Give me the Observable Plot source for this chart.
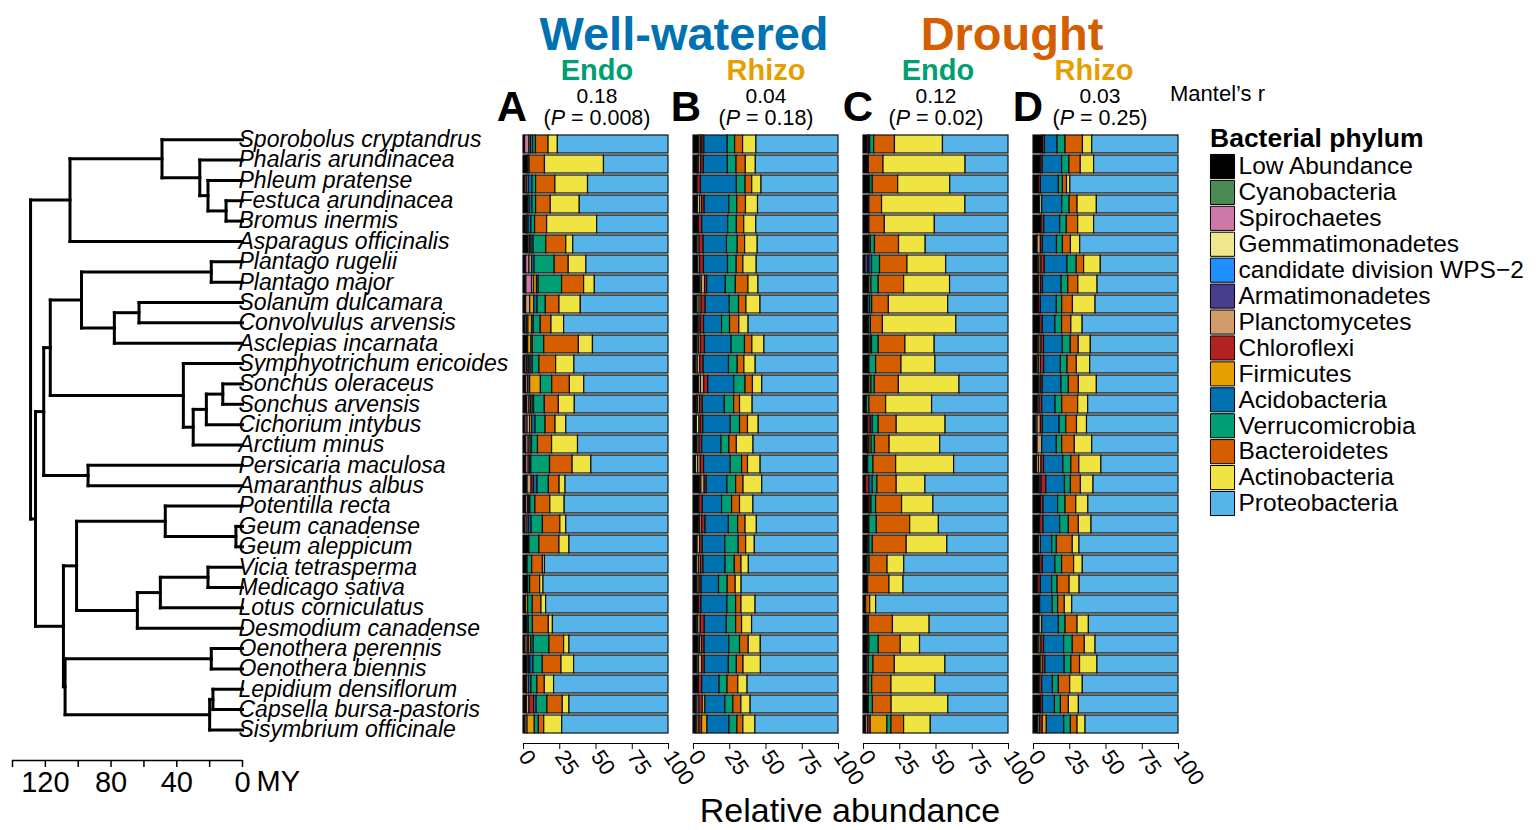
<!DOCTYPE html>
<html><head><meta charset="utf-8">
<script src="https://cdn.jsdelivr.net/npm/d3@7"></script>
<script src="https://cdn.jsdelivr.net/npm/@observablehq/plot@0.6"></script>
<style>
body{margin:0;background:#fff;font-family:"Liberation Sans",Arial,sans-serif}
#wrap{position:relative;width:1536px;height:830px;overflow:hidden;background:#fff}
#wrap > svg{position:absolute;left:0;top:0}
</style></head>
<body><div id="wrap"></div>
<script>
const species = ["Sporobolus cryptandrus","Phalaris arundinacea","Phleum pratense","Festuca arundinacea","Bromus inermis","Asparagus officinalis","Plantago rugelii","Plantago major","Solanum dulcamara","Convolvulus arvensis","Asclepias incarnata","Symphyotrichum ericoides","Sonchus oleraceus","Sonchus arvensis","Cichorium intybus","Arctium minus","Persicaria maculosa","Amaranthus albus","Potentilla recta","Geum canadense","Geum aleppicum","Vicia tetrasperma","Medicago sativa","Lotus corniculatus","Desmodium canadense","Oenothera perennis","Oenothera biennis","Lepidium densiflorum","Capsella bursa-pastoris","Sisymbrium officinale"];
const phyla = ["Low Abundance","Cyanobacteria","Spirochaetes","Gemmatimonadetes","candidate division WPS\u22122","Armatimonadetes","Planctomycetes","Chloroflexi","Firmicutes","Acidobacteria","Verrucomicrobia","Bacteroidetes","Actinobacteria","Proteobacteria"];
const phylumColors = ["#000000","#4b8a50","#cc79a7","#f0e68c","#1e90ff","#483d8b","#d19c6c","#b22222","#e69f00","#0072b2","#009e73","#d55e00","#f0e442","#56b4e9"];
const panels = ["A","B","C","D"];
const panelTreatment = ["Well-watered","Well-watered","Drought","Drought"];
const panelCompartment = ["Endo","Rhizo","Endo","Rhizo"];
const mantelR = ["0.18","0.04","0.12","0.03"];
const mantelP = ["0.008","0.18","0.02","0.25"];
const axisTicks = [0,25,50,75,100];
const myTicks = [0,20,40,60,80,100,120,140];

// columns: Low, Cyano, Spiro, Gemma, WPS-2, Armat, Planct, Chloro, Firm, Acido, Verruco, Bacteroid, Actino (Proteobacteria fills the rest of 100%)
const wellEndo = [
[1.1,0,3,0,0,0,1,0,0,1.5,2,8.7,6.4],
[3.2,0,0,0,0,0,0,0,0,0,1,10.6,40.7],
[1.4,0,1.1,0,0,0,1.2,0,0,2.5,2.5,13.3,22.5],
[3.2,0,0,0,0,0,1,0,0,2,2.5,10.1,20],
[2,0,0,0,0,0,0.5,1,0,2,2.5,8.3,34.5],
[3.5,0,0,0,0,0,1,0,1,1.5,8.7,13.8,4.8],
[1.8,0,2.3,0,0,0,1.8,0,0,1.8,13.8,9.7,12.2],
[2,0,3.9,0,0,0,1.4,0,2,1.2,16.1,15.2,7.4],
[1.8,0,0,0,0,0,2.8,0,2.8,2.3,5.7,9.4,14.7],
[1.4,0,1,0,0,0,1,0,2.5,1.2,4.8,7.4,8.7],
[3.2,0,0,0,0,0,0,0,2.3,1,7.8,23.9,9.7],
[1.4,0,1.1,0,0,0,1,0.5,0.9,1.5,4.6,11.5,12.6],
[1.8,0,1.4,0,0,1.4,0,0,7.4,0,7.8,12.2,9.9],
[2.5,0,1.6,0,0,0,1,0,1.2,1,7.4,9.7,11],
[1.4,0,1.4,0,0,0,1.8,0,1.4,2.3,6.9,6.9,7.4],
[1.8,0,1.8,0,0,0,1.3,0,0,1,4.1,9.7,17.9],
[1.8,0,1.8,0,0,0,1,0,0,0.8,12.9,15.6,12.9],
[2.8,0,0,0,0,0,2.8,1.6,0,2.5,7.8,7.4,4.1],
[1.8,0,1.4,0,0,0,0.8,0,0,0.8,3.4,10.3,9.9],
[1.4,0,1.4,0,0,0,1,0,0,1.8,7.8,12,4.1],
[4.1,0,0,0,0,0,0,0,0,0,6.9,13.8,6.9],
[2.8,0,0,0,0,0,0,0,0,0,3.2,7.4,1.4],
[3.2,0,0,0,0,0,0,0,0,0,1.4,6.9,2.3],
[1.8,0,0,0,0,0,0,0,1.4,0,3.2,6,3.2],
[2.8,0,0,0,0,0,0,0,0,0.9,2.8,11,2.8],
[1.4,0,0,0,0,0,1.5,1,1.5,1.7,10.8,10.1,3.7],
[2.8,0,0.9,0,0,0,1,0,0,2.2,6.4,12.9,8.7],
[2.3,0,0,0,0,0,1.4,0,0,1.8,4.1,5.1,6.4],
[2.3,0,0,0,0,0,1.8,3.2,0,1.8,7.4,10.6,4.6],
[1.4,0,0,0,0,0,1.4,0,5,0,2.8,3.7,12.4]];
const wellRhizo = [
[4.1,0,0,1,0,0,1,1.4,0,16.1,5.1,5.5,9.2],
[3,0,0,0.9,0,0,1.4,1.8,0,16.6,6,6.4,6.9],
[2.8,0,0,0,0,0,0,2.3,0,24.8,6,4.6,6.4],
[3,0,0,1.5,0,0,1.4,1.8,0,17,5.5,6,8.3],
[3.7,0,0,0,0,0,0,2.3,0,17.9,6,5.1,8.3],
[2.8,0,0,0,0,0,1.4,2.8,0,16.1,7.4,5.1,8.7],
[3.3,0,0,0,0,0,1.4,2.5,0,16.6,6,4.6,9.2],
[4.8,0,0,0.9,0,0,2.3,1.4,0,12.9,6.9,8.7,6.9],
[2.8,0,0,1.4,0,0,1.4,2.8,0,16.6,6.4,5.1,9.7],
[3.2,0,0,0.9,0,0,0.9,2.3,0,12.4,5.5,6.4,6.4],
[2.8,0,0,0.9,0,0,1.4,2.8,0,18.4,9.2,5.1,8.3],
[2,0,0,0.9,0,0,1.8,2.3,0,17.5,6,4.6,7.8],
[3.7,0,0,1.4,0,0,2.3,2.8,0,17.9,7.8,5.1,6.4],
[2.3,0,0,0.9,0,0,1.4,1.8,0,15.2,6.4,4.1,8.7],
[2.3,0,0,1.8,0,0,0.9,1.8,0,18.9,6.4,5.5,7.4],
[2.8,0,0,0,0,0,1.4,1.8,0,13.3,5.5,5.1,11.5],
[1.8,0,0,1.4,0,0,1.8,2.3,0,18.4,7.8,4.1,8.7],
[4.5,0,0,0.9,0,0,2.3,1.4,0,14.3,6,5.1,12.9],
[4.1,0,0,0,0,0,0,2.3,0,13.3,6.9,5.5,9.2],
[3.7,0,0,0.9,0,0,1.4,2.3,0,16.1,6.4,5.1,7.8],
[2.8,0,0,0,0,0,1.8,1.8,0,15.6,9.2,5.1,6],
[2.3,0,0,1.4,0,0,1.4,1.8,0,15.2,6.4,4.6,5.1],
[2.8,0,0,0,0,0,1.4,1.4,0,12,6,5.5,4.1],
[3.7,0,0,0,0,0,0,1.8,0,17.9,6,3.7,9.7],
[2.3,0,0,0.9,0,0,1.8,2.8,0,15.2,6.4,4.1,6.9],
[3.6,0,0,0.9,0,0,1.4,1.8,0,17,7.4,6,8.3],
[2.8,0,0,0.9,0,0,2.3,1.8,0,16.6,5.5,4.6,12],
[3.7,0,0,0,0,0,0,2.3,0,12,5.5,7.4,6.4],
[1.8,0,0,0.9,0,0,1.4,2.3,1.8,13.8,5.5,5.5,6.4],
[1.8,0,0,0.9,0,0,1.4,1.8,3.7,15.2,5.5,4.1,8.3]];
const droughtEndo = [
[2.8,0,0,0,0,0,0,0.9,0,0.9,2.8,14.3,33.1],
[3.7,0,0,0,0,0,0,0,0,0,0,10.1,56.6],
[4.6,0,0,0,0,0,0,0,0,0,1.8,17.5,35.9],
[4.1,0,0,0,0,0,0,0,0,0,0,8.7,57.5],
[4.1,0,0,0,0,0,0,0,0,0,0,10.6,34.5],
[4.2,0,0,0,0,0,0.9,0,0,0,2.8,16.6,18.4],
[1.4,0,0,0,0,1.8,0,0.9,0,1.8,5.5,18.9,26.7],
[4.1,0,0,0,0,0,1.4,0,0,0,5,17.5,31.7],
[3.2,0,0,0,0,0,0,0,0,1.4,1.4,11.5,40.9],
[3.7,0,0,0,0,0,0,0,0,0,1.4,8.3,50.6],
[4.1,0,0,0,0,0,0.9,0.9,0,0,4.6,18.4,20.2],
[4.1,0,0,0,0,0,0,0,0,0,4.6,17.5,23.4],
[4.1,0,0,0,0,0,0,0,1.4,0,2.3,16.6,41.8],
[2.3,0,0,0,0,0,0,0,0,0,1.8,11.5,31.7],
[3.2,0,0,0,0,0,0,1.8,0,1.4,4.1,12.4,33.7],
[3.3,0,0,0,0,0,0,0.9,1.4,0,2.3,10.1,34.9],
[3.2,0,0,0,0,0,0,0,0,0,3.7,15.6,40],
[1.8,0,0,0,0,0,0,2.3,0,2.3,3.2,13.3,19.8],
[4.1,0,0,0,0,0,0,1.4,0,0,3.2,17.9,21.6],
[4.1,0,0,0,0,0,0,0,0,0,5.1,23,19.8],
[3.2,0,0,0,0,0,0,0,0.9,0,2.3,23.4,28],
[2.8,0,0,0,0,0,0,0,0,0,1.4,12.4,11.5],
[3.2,0,0,0,0,0,0,0,0,0,0,14.7,9.7],
[1.8,0,0,0,0,0,0,0,0,0,0,2.8,4.1],
[2.8,0,0,0,0,0,0,0,0,0,0.9,16.6,25.3],
[3.2,0,0,0,0,0,0,0,0.9,0,6.4,15.2,13.3],
[2.3,0,0,0,0,1.4,0,0,0,0,3.2,14.7,34.9],
[2.3,0,0,0,0,0,0,1.4,0,0,2.3,13.3,30.3],
[3.7,0,0,0,0,0,0,0,0,0,2.8,12.9,39.1],
[1.8,0,0,0,0,0,1.4,1.8,11.5,0,2.8,8.7,18.4]];
const droughtRhizo = [
[6.5,0,0,0,0,0,0,1.4,0,8.7,5.5,12,6.4],
[5,0,0,0,0,0,0,1.4,0,13.3,5.1,7.8,9.2],
[3.7,0,0,0,0,0,0,1.4,0,12.4,2.8,2.8,2.3],
[4.6,0,0,1.4,0,0,0,0,0,13.8,5.1,5.5,13.3],
[5.6,0,0,0,0,0,0,1.8,0,11,4.6,7.8,11],
[2.8,0,0,0,0,0,2.3,1.4,0,9.7,4.1,5.5,6.4],
[3.2,0,0,0.9,0,0,1.4,2.3,0,15.6,6.4,5.1,11.5],
[3.7,0,0,0,0,0,1.4,1.4,0,12.9,4.6,6.9,13.3],
[3.7,0,0,0,0,0,0,1.4,0,11,3.7,7.4,15.6],
[4.6,0,0,0,0,0,0,1.8,0,8.7,4.6,6.4,7.8],
[3.2,0,0,0.9,0,0,1.4,1.8,0,12.9,5.5,5.5,8.3],
[2.8,0,0,0.9,0,0,1.4,2.3,0,11.5,4.6,6.4,9.2],
[4.1,0,0,0.9,0,0,0,1.4,0,12.9,5.1,6.9,12.4],
[3.3,0,0,0.9,0,0,0,1.8,0,9.2,4.6,11,6.9],
[1.9,0,0,0.9,0,0,2.3,1.4,0,11.5,4.6,7.4,6.9],
[2.8,0,0,0,0,0,3.2,0,0,10.1,3.7,8.7,12],
[2.3,0,0,1.4,0,0,1.8,1.8,0,13.3,5.5,5.5,15.2],
[4.2,0,0,0,0,1.4,0,3.2,0,12.9,4.1,6.9,8.7],
[5.1,0,0,0,0,0,0,1.8,0,10.1,5.1,7.4,8.3],
[4.6,0,0,0,0,0,0,2.3,0,11.5,6,6.9,8.7],
[3.7,0,0,0,0,0,1.4,0,0,7.8,3.2,11,4.6],
[4.6,0,0,0,0,0,0,1.8,0,8.7,4.6,8.3,6],
[3.3,0,0,0,0,0,0,1.8,0,7.8,3.7,8.3,6.9],
[4.6,0,0,0,0,0,0,0,0,8.7,3.7,4.6,5.1],
[4.2,0,0,0,0,0,1.8,0,0,11.5,4.6,8.3,7.8],
[3.2,0,0,0.9,0,0,1.4,1.8,0,13.8,6,8.3,7.4],
[5,0,0,1.4,0,0,0,1.8,0,13.3,4.6,6,12],
[4.2,0,0,0,0,0,0,1.8,0,7.4,4.1,7.8,8.7],
[5.1,0,0,0,0,0,0,1.4,0,8.3,4.1,5.5,6.9],
[3.2,1.4,0,0,0,0,0,1.8,2.8,12,4.6,4.6,5.5]];

// phylogeny: [node age in MY, child, child]; tips are species names
const phylogeny =
[129,
  [105, [49, "Sporobolus cryptandrus", [26, "Phalaris arundinacea", [21, "Phleum pratense", [10, "Festuca arundinacea", "Bromus inermis"]]]], "Asparagus officinalis"],
  [126,
    [121,
      [117,
        [98, [19, "Plantago rugelii", "Plantago major"], [78, [63, "Solanum dulcamara", "Convolvulus arvensis"], "Asclepias incarnata"]],
        [36, "Symphyotrichum ericoides", [30, [22, [12, "Sonchus oleraceus", "Sonchus arvensis"], "Cichorium intybus"], "Arctium minus"]]],
      [94, "Persicaria maculosa", "Amaranthus albus"]],
    [109,
      [101,
        [47, "Potentilla recta", [4, "Geum canadense", "Geum aleppicum"]],
        [64, [50, [21, "Vicia tetrasperma", "Medicago sativa"], "Lotus corniculatus"], "Desmodium canadense"]],
      [108,
        [19, "Oenothera perennis", "Oenothera biennis"],
        [20, [18, "Lepidium densiflorum", "Capsella bursa-pastoris"], "Sisymbrium officinale"]]]]];

const W = 1536, H = 830;
const wrap = document.getElementById("wrap");
const font = "Liberation Sans, Arial, sans-serif";

// ---------- tree ----------
const segs = [];
function walk(n) {
  if (typeof n === "string") return {y: species.indexOf(n), age: 0};
  const [age, ...kids] = n;
  const ks = kids.map(walk);
  const ys = ks.map(k => k.y);
  ks.forEach(k => segs.push({x1: age, x2: k.age, y1: k.y, y2: k.y}));
  segs.push({x1: age, x2: age, y1: d3.min(ys), y2: d3.max(ys)});
  return {y: (d3.min(ys) + d3.max(ys)) / 2, age};
}
walk(phylogeny);

const treePlot = Plot.plot({
  width: 540, height: H,
  marginLeft: 12, marginRight: 540 - 242, marginTop: 129, marginBottom: H - 760,
  style: {fontFamily: font, background: "transparent", overflow: "visible"},
  x: {domain: [140, 0], range: [12, 242]},
  y: {domain: [-0.5, 30.5], range: [129, 760], axis: null},
  marks: [
    Plot.link(segs, {x1: "x1", y1: "y1", x2: "x2", y2: "y2", stroke: "black", strokeWidth: 3, strokeLinecap: "square"}),
    Plot.text(species, {x: 0, y: (d, i) => i, text: d => d, textAnchor: "start", dx: -4, fontSize: 23, fontStyle: "italic", fill: "black"}),
    Plot.ruleY([30.5], {x1: 140, x2: 0, stroke: "black", strokeWidth: 1.5}),
    Plot.axisX({ticks: myTicks, tickFormat: d => d % 40 === 0 ? String(d) : "", tickSize: 7, tickPadding: 4, fontSize: 29, label: null, strokeWidth: 1.5}),
    Plot.text(["MY"], {x: 0, y: 30.5, dx: 14, dy: 21, textAnchor: "start", fontSize: 29})
  ]
});
wrap.appendChild(treePlot);

// ---------- bars ----------
const tables = [wellEndo, wellRhizo, droughtEndo, droughtRhizo];
const rows = [];
panels.forEach((p, pi) => {
  species.forEach((s, si) => {
    const vals = tables[pi][si];
    phyla.forEach((ph, k) => {
      const v = k < 13 ? vals[k] : 100 - d3.sum(vals);
      if (v > 0) rows.push({panel: p, species: s, phylum: ph, value: v});
    });
  });
});

const barPlot = Plot.plot({
  width: W, height: H,
  marginLeft: 523, marginRight: W - 1178, marginTop: 129, marginBottom: H - 743,
  style: {fontFamily: font, background: "transparent", overflow: "visible"},
  fx: {domain: panels, paddingInner: 25 / 170, paddingOuter: 0, axis: null},
  x: {domain: [0, 100]},
  y: {domain: species, range: [129, 739], paddingInner: 0.1, paddingOuter: 0.05, axis: null},
  color: {domain: phyla, range: phylumColors},
  marks: [
    Plot.barX(rows, {x: "value", y: "species", fx: "panel", fill: "phylum", order: phyla, stroke: "#111", strokeWidth: 1.2}),
    Plot.axisX({ticks: axisTicks, tickRotate: 56, fontSize: 22, tickSize: 6, tickPadding: 3, label: null}),
    Plot.frame({anchor: "bottom"})
  ]
});
wrap.appendChild(barPlot);

// ---------- legend ----------
const legendPlot = Plot.plot({
  width: W, height: H,
  marginLeft: 1222, marginRight: 0, marginTop: 0, marginBottom: 0,
  style: {fontFamily: font, background: "transparent", overflow: "visible"},
  y: {type: "linear", domain: [0, phyla.length - 1], range: [166, 503], axis: null},
  color: {domain: phyla, range: phylumColors},
  marks: [
    Plot.dot(phyla, {y: (d, i) => i, fill: d => d, symbol: "square", r: 13.6, stroke: "black", strokeWidth: 1, frameAnchor: "left"}),
    Plot.text(phyla, {y: (d, i) => i, text: d => d, frameAnchor: "left", dx: 16, textAnchor: "start", fontSize: 24.5, fill: "black"})
  ]
});
wrap.appendChild(legendPlot);

// ---------- titles ----------
const svg = d3.select(wrap).append("svg").attr("width", W).attr("height", H)
  .style("font-family", font).style("pointer-events", "none");
const txt = (x, y, s, size, opts = {}) => svg.append("text").attr("x", x).attr("y", y)
  .attr("text-anchor", opts.anchor || "middle").attr("font-size", size)
  .attr("font-weight", opts.bold ? "bold" : null).attr("fill", opts.fill || "black").text(s);

txt(684, 50, "Well-watered", 47, {bold: true, fill: "#0072b2"});
txt(1012, 50, "Drought", 47, {bold: true, fill: "#d55e00"});
const colX = [597, 766, 936, 1100];
const compX = [597, 766, 938, 1094];
const compColor = {Endo: "#009e73", Rhizo: "#e69f00"};
const letterX = [512, 686, 858, 1028];
panels.forEach((p, i) => {
  txt(compX[i], 80, panelCompartment[i], 29, {bold: true, fill: compColor[panelCompartment[i]]});
  txt(letterX[i], 121, p, 42, {bold: true});
  txt(colX[i], 103, mantelR[i], 21);
  const t = svg.append("text").attr("x", colX[i]).attr("y", 125).attr("text-anchor", "middle").attr("font-size", 21.5);
  t.append("tspan").text("(");
  t.append("tspan").attr("font-style", "italic").text("P");
  t.append("tspan").text(" = " + mantelP[i] + ")");
});
txt(1170, 101, "Mantel\u2019s r", 22, {anchor: "start"});
txt(1210, 147, "Bacterial phylum", 26.5, {anchor: "start", bold: true});
txt(850, 822, "Relative abundance", 34);
</script></body></html>
